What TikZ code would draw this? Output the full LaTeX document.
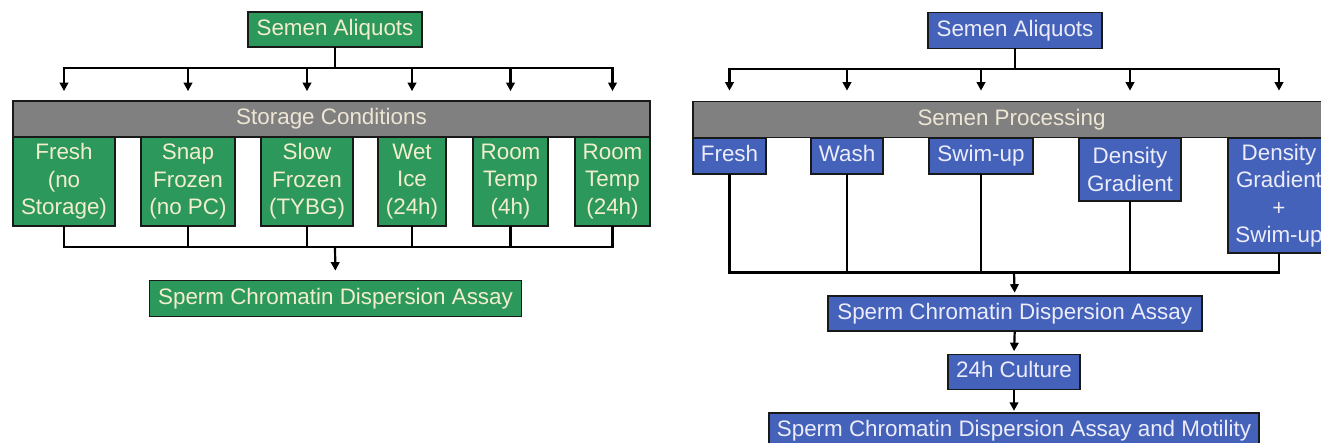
\documentclass[tikz,border=0pt]{standalone}
\usepackage{fontspec}
\setmainfont{Liberation Sans}
\usetikzlibrary{arrows.meta,calc}

\definecolor{boxgreen}{RGB}{44,152,92}
\definecolor{boxblue}{RGB}{68,98,186}
\definecolor{bargray}{RGB}{128,128,128}
\definecolor{creamtxt}{RGB}{242,238,205}
\definecolor{paletxt}{RGB}{236,236,250}
\definecolor{bartxt}{RGB}{238,230,212}

\begin{document}
\begin{tikzpicture}[x=1pt,y=-1pt,
  box/.style={draw=black!90, line width=1.7pt, inner sep=0pt, align=center,
              font=\fontsize{22.4}{27.5}\selectfont},
  oneline/.style={text height=16pt, text depth=4.5pt},
  greenbox/.style={box, fill=boxgreen, text=creamtxt},
  bluebox/.style={box, fill=boxblue, text=paletxt},
  graybar/.style={box, oneline, fill=bargray, text=bartxt},
  link/.style={line width=2.2pt, black, line cap=rect},
  arr/.style={line width=2.2pt, black, -{Triangle[length=8.5pt,width=8.5pt]}},
]
\useasboundingbox (0,0) rectangle (1321,443);
\clip (0,0) rectangle (1321,443);
\fill[white] (0,0) rectangle (1321,443);

% ---------- storage conditions ----------
\node[greenbox, oneline, minimum width=174, minimum height=35] (sa1) at (335,29.5) {Semen Aliquots};
\node[graybar, minimum width=637, minimum height=36] (bar1) at (331.5,119) {Storage Conditions};
\node[greenbox, minimum width=102, minimum height=89] (f1)  at (64,181.5)   {Fresh\\(no\\Storage)};
\node[greenbox, minimum width=94,  minimum height=89] (s1)  at (188,181.5)  {Snap\\Frozen\\(no PC)};
\node[greenbox, minimum width=92,  minimum height=89] (sl1) at (307,181.5)  {Slow\\Frozen\\(TYBG)};
\node[greenbox, minimum width=68,  minimum height=89] (w1)  at (412,181.5)  {Wet\\Ice\\(24h)};
\node[greenbox, minimum width=75,  minimum height=89] (r4)  at (510.5,181.5){Room\\Temp\\(4h)};
\node[greenbox, minimum width=75,  minimum height=89] (r24) at (612.5,181.5){Room\\Temp\\(24h)};
\node[greenbox, oneline, minimum width=372, minimum height=36] (sca1) at (335.5,298.5) {Sperm Chromatin Dispersion Assay};

\coordinate (t1) at (335,68);
\coordinate (m1) at (335,247);
\draw[link] (sa1.south) -- (t1);
\draw[link] (f1 |- t1) -- (r24 |- t1);
\foreach \n in {f1,s1,sl1,w1,r4,r24}{
  \draw[arr, shorten >=9pt] (\n |- t1) -- (\n |- bar1.north);
  \draw[link] (\n.south) -- (\n |- m1);
}
\draw[link] (f1 |- m1) -- (r24 |- m1);
\draw[arr, shorten >=9pt] (m1) -- (sca1.north);

% ---------- semen processing ----------
\node[bluebox, oneline, minimum width=174, minimum height=36] (sa2) at (1015,30.5) {Semen Aliquots};
\node[graybar, minimum width=637, minimum height=36] (bar2) at (1011.5,119.5) {Semen Processing};
\node[bluebox, oneline, minimum width=73,  minimum height=36]  (fr2)  at (729.5,156) {Fresh};
\node[bluebox, oneline, minimum width=72,  minimum height=36]  (wa2)  at (847,156)   {Wash};
\node[bluebox, oneline, minimum width=104, minimum height=36]  (sw2)  at (981,156)   {Swim-up};
\node[bluebox, minimum width=102, minimum height=63]  (dg2)  at (1130,169.5) {Density\\Gradient};
\node[bluebox, minimum width=102, minimum height=115] (dgs2) at (1279,195.5) {Density\\Gradient\\+\\Swim-up};
\node[bluebox, oneline, minimum width=374, minimum height=35] (sca2) at (1014.7,313.5) {Sperm Chromatin Dispersion Assay};
\node[bluebox, oneline, minimum width=132, minimum height=35] (cul2) at (1014,372) {24h Culture};
\node[bluebox, oneline, minimum width=490, minimum height=36] (fin2) at (1014,430.7) {Sperm Chromatin Dispersion Assay and Motility};

\coordinate (t2) at (1015,69);
\coordinate (m2) at (1014,272.5);
\draw[link] (sa2.south) -- (t2);
\draw[link] (fr2 |- t2) -- (dgs2 |- t2);
\foreach \n in {fr2,wa2,sw2,dg2,dgs2}{
  \draw[arr, shorten >=10pt] (\n |- t2) -- (\n |- bar2.north);
  \draw[link] (\n.south) -- (\n |- m2);
}
\draw[link] (fr2 |- m2) -- (dgs2 |- m2);
\draw[arr, shorten >=2.5pt] (m2) -- (sca2.north);
\draw[arr, shorten >=2.5pt] (sca2.south) -- (cul2.north);
\draw[arr, shorten >=1pt] (cul2.south) -- (fin2.north);
\end{tikzpicture}
\end{document}
